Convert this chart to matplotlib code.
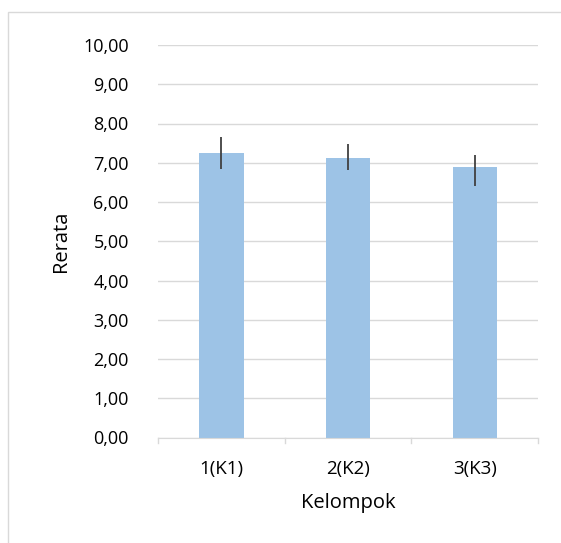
import matplotlib.pyplot as plt
from matplotlib.patches import Rectangle
from matplotlib.ticker import FuncFormatter

# data
groups = ['1(K1)', '2(K2)', '3(K3)']
means = [7.26, 7.11, 6.88]
err_low = [0.43, 0.29, 0.47]
err_high = [0.40, 0.36, 0.33]

plt.rcParams['font.family'] = ['Open Sans', 'DejaVu Sans']

fig = plt.figure(figsize=(5.61, 5.43), dpi=100)
ax = fig.add_axes([158/561, 1-437.5/543, 380/561, 392.5/543])

x = range(len(groups))
ax.bar(x, means, width=0.35, color='#9DC3E6', zorder=2)
ax.errorbar(x, means, yerr=[err_low, err_high], fmt='none',
            ecolor='#404040', elinewidth=1.3, capsize=0, zorder=3)

ax.set_xlim(-0.5, 2.5)
ax.set_ylim(0, 10)
ax.set_yticks([i for i in range(11)])
ax.yaxis.set_major_formatter(FuncFormatter(lambda v, p: f'{v:.2f}'.replace('.', ',')))
ax.set_xticks(list(x))
ax.set_xticklabels(groups)

ax.grid(axis='y', color='#D9D9D9', linewidth=1, zorder=0)
ax.set_axisbelow(True)
for s in ['top', 'right', 'left']:
    ax.spines[s].set_visible(False)
ax.spines['bottom'].set_color('#D9D9D9')
ax.tick_params(axis='y', length=0, pad=21, labelsize=13)
ax.tick_params(axis='x', length=0, pad=16, labelsize=13.5)
# category separator ticks
for b in [-0.5, 0.5, 1.5, 2.5]:
    ax.plot([b, b], [0, -0.15], color='#D9D9D9', lw=1, clip_on=False)

ax.set_ylabel('Rerata', fontsize=14.5, labelpad=9)
ax.set_xlabel('Kelompok', fontsize=14.5, labelpad=11)

# chart border
fig.patches.append(Rectangle((8/561, -0.01), 1.0, 1 - 12/543 + 0.01,
                             transform=fig.transFigure, fill=False,
                             edgecolor='#D9D9D9', lw=1))

fig.savefig('out.png', dpi=100)
